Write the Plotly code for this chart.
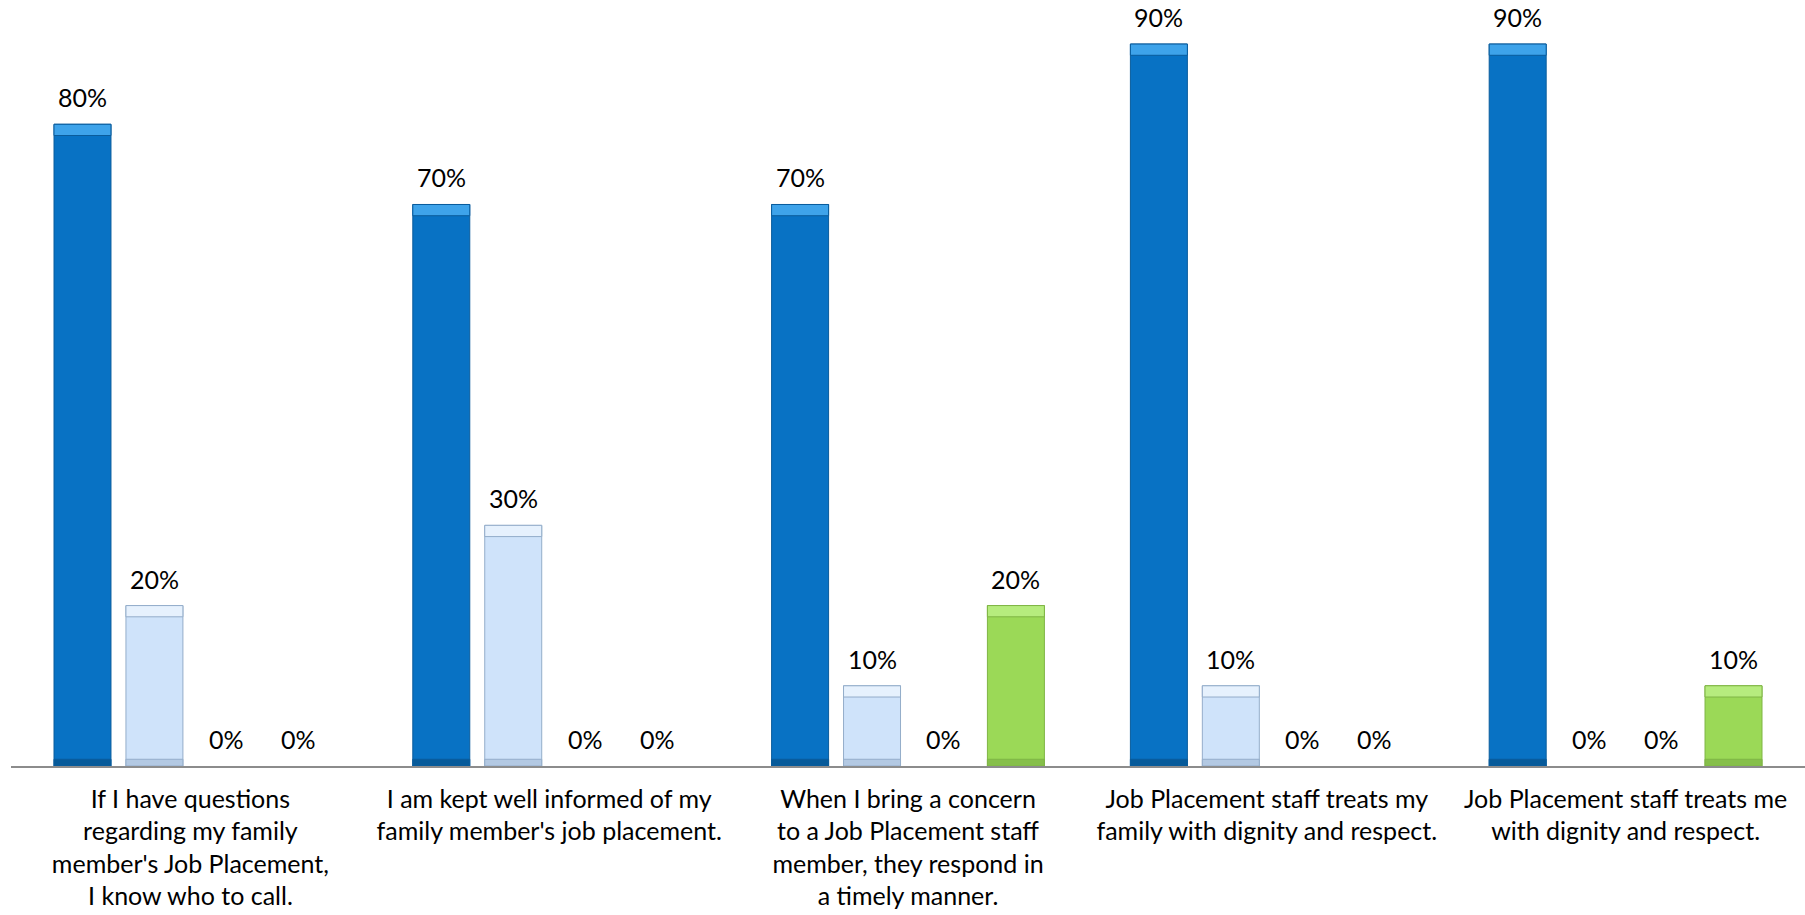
import plotly.graph_objects as go

# Survey statements (category axis), wrapped as displayed
categories = [
    "If I have questions<br>regarding my family<br>member's Job Placement,<br>I know who to call.",
    "I am kept well informed of my<br>family member's job placement.",
    "When I bring a concern<br>to a Job Placement staff<br>member, they respond in<br>a timely manner.",
    "Job Placement staff treats my<br>family with dignity and respect.",
    "Job Placement staff treats me<br>with dignity and respect.",
]

# Response shares (%) per answer option
series_names = ["Agree", "Somewhat agree", "Disagree", "Don't know"]
agree = [80, 70, 70, 90, 90]
somewhat = [20, 30, 10, 10, 0]
disagree = [0, 0, 0, 0, 0]
dont_know = [0, 0, 20, 0, 10]

values = [agree, somewhat, disagree, dont_know]
fills = ["#0872c4", "#cfe3fa", "#a6a6a6", "#9bd957"]
edges = ["#0a5c9c", "#94adca", "#8a8a8a", "#7fb545"]
tops = ["#3ea3ea", "#e6f1fd", "#c8c8c8", "#b6ec7e"]
bottoms = ["#065a9a", "#b3c9e3", "#909090", "#86bf4a"]

FONT = "Lato"
BEVEL = 1.4  # bevel band thickness, in percentage points
BARGAP = 0.198
GROUPGAP = 0.208
n_series = len(values)

fig = go.Figure()
for i, (name, vals) in enumerate(zip(series_names, values)):
    grp = str(i)
    line_w = [1 if v > 0 else 0 for v in vals]
    fig.add_trace(go.Bar(
        name=name, x=categories, y=vals, offsetgroup=grp,
        marker=dict(color=fills[i], line=dict(color=edges[i], width=line_w)),
        hoverinfo="skip",
    ))
    # lighter top bevel and darker bottom bevel on each non-empty bar
    fig.add_trace(go.Bar(
        x=categories, y=[BEVEL if v > 0 else None for v in vals],
        base=[v - BEVEL if v > 0 else None for v in vals],
        offsetgroup=grp, showlegend=False, hoverinfo="skip",
        marker=dict(color=tops[i], line=dict(color=edges[i], width=1)),
    ))
    fig.add_trace(go.Bar(
        x=categories, y=[BEVEL * 0.6 if v > 0 else None for v in vals],
        base=[0 if v > 0 else None for v in vals],
        offsetgroup=grp, showlegend=False, hoverinfo="skip",
        marker=dict(color=bottoms[i], line=dict(color=edges[i], width=1)),
    ))

# value labels above each bar, centred on the bar's slot within its group
group_width = 1 - BARGAP
for i, vals in enumerate(values):
    offset = group_width * ((i + 0.5) / n_series - 0.5)
    for j, v in enumerate(vals):
        fig.add_annotation(
            x=j + offset, y=v, xref="x", yref="y",
            text=f"{v}%", showarrow=False,
            yanchor="bottom", xanchor="center", yshift=10,
            font=dict(family=FONT, size=25, color="#000000"),
        )

fig.update_layout(
    width=1805, height=915,
    barmode="group", bargap=BARGAP, bargroupgap=GROUPGAP,
    margin=dict(l=11, r=0, t=20, b=149),
    paper_bgcolor="white", plot_bgcolor="white",
    showlegend=False,
    font=dict(family=FONT, size=25, color="#000000"),
    xaxis=dict(
        showline=True, linecolor="#8c8c8c", linewidth=1.5,
        ticks="", showgrid=False, tickangle=0, ticklabelstandoff=10,
        tickfont=dict(family=FONT, size=25, color="#000000"),
    ),
    yaxis=dict(visible=False, range=[0, 93], showgrid=False, zeroline=False),
)

fig.write_html("out.html")
